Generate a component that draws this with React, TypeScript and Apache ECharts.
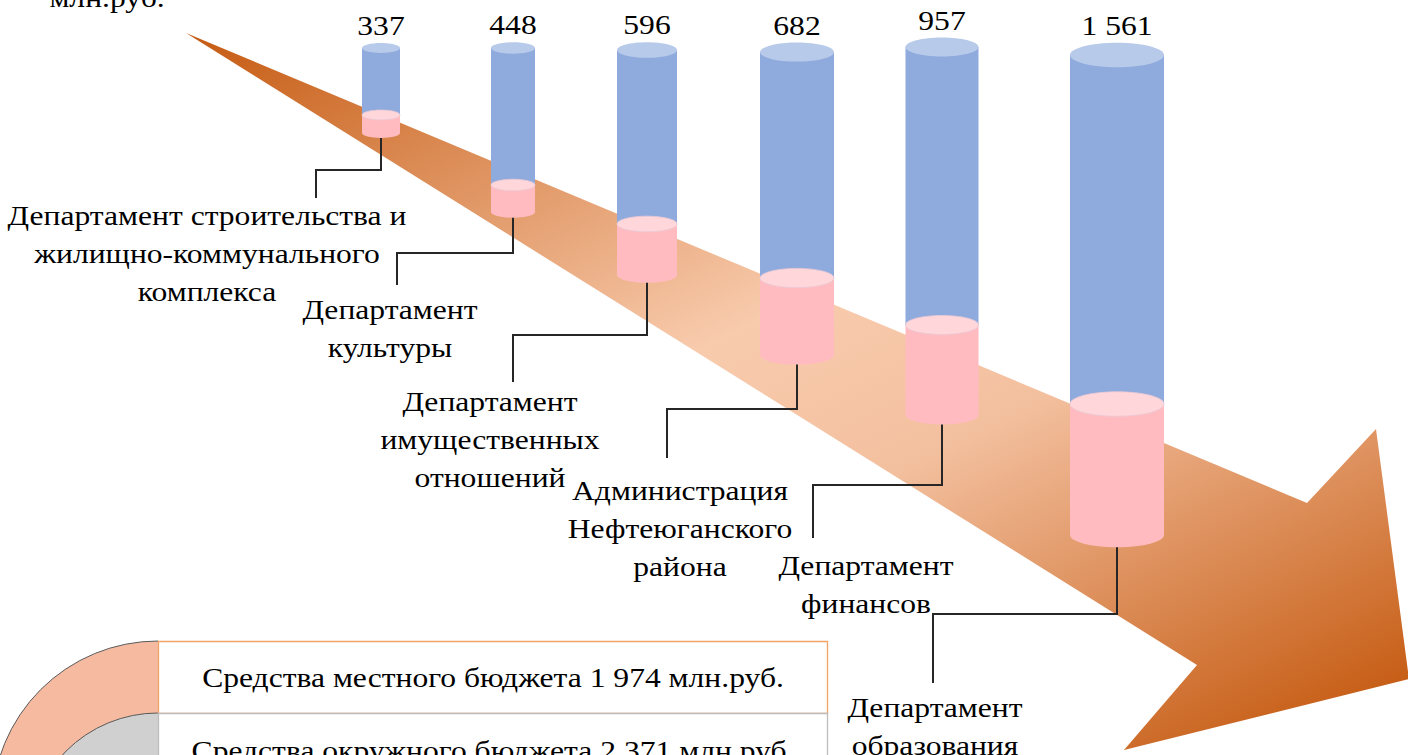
import React, { useEffect, useRef } from "react";
import * as echarts from "echarts";

// ---- data ----
const departments = [
  "Департамент строительства и\nжилищно-коммунального\nкомплекса",
  "Департамент\nкультуры",
  "Департамент\nимущественных\nотношений",
  "Администрация\nНефтеюганского\nрайона",
  "Департамент\nфинансов",
  "Департамент\nобразования",
];
const totals = [337, 448, 596, 682, 957, 1561];
// drawn lengths of the blue (upper) and pink (lower) part of each cylinder
const blueLength = [67, 137, 174, 226, 278, 349];
const pinkLength = [18, 27, 51, 77, 90, 131];
const budgetNames = ["Средства местного бюджета", "Средства окружного бюджета"];
const budgetValues = [1974, 2371];
const unitText = "млн.руб.";

// ---- layout (picture units) ----
const columnX = [381, 513, 647, 797, 942, 1117];
const columnWidth = [38, 44, 60, 74, 73, 94];
const columnTop = [48, 48, 50, 52, 47, 55];
const elbowY = [170, 253, 335, 409, 485, 614];
const leaderX = [316, 397, 513, 667, 813, 933];
const leaderEndY = [198, 285, 382, 458, 538, 683];
const labelX = [207, 390, 490, 680, 866, 935];
const labelY = [216, 310, 402, 491, 566, 708];

const W = 1408;
const H = 755;
const FONT = "Liberation Serif, DejaVu Serif, serif";
const FS = 27;
const SX = 1.17;
const LH = 38;

const fmt = (n: number) => String(n).replace(/\B(?=(\d{3})+(?!\d))/g, " ");

const txt = (extra: any = {}) => ({
  fontFamily: FONT,
  fontSize: FS,
  fill: "#000",
  align: "center",
  verticalAlign: "middle",
  ...extra,
});

export default function App() {
  const ref = useRef<HTMLDivElement>(null);
  useEffect(() => {
    if (!ref.current) return;
    const chart = echarts.init(ref.current, undefined, { renderer: "svg" });

    const cylData = totals.map((t, i) => [columnX[i], columnTop[i], blueLength[i], pinkLength[i], columnWidth[i], t]);
    const leaderData = departments.map((_, i) => [
      columnX[i],
      columnTop[i] + blueLength[i] + pinkLength[i],
      elbowY[i],
      leaderX[i],
      leaderEndY[i],
      labelX[i],
      labelY[i],
      columnWidth[i],
    ]);

    const arrowGradient = new echarts.graphic.LinearGradient(
      186, 33, 696, 1053,
      [
        { offset: 0, color: "#C55A11" },
        { offset: 0.45, color: "#F8CBAD" },
        { offset: 0.62, color: "#F3C09F" },
        { offset: 1, color: "#C55A11" },
      ],
      true
    );

    const option: any = {
      animation: false,
      textStyle: { fontFamily: FONT },
      grid: { left: 0, right: 0, top: 0, bottom: 0, containLabel: false },
      xAxis: { type: "value", min: 0, max: W, show: false },
      yAxis: { type: "value", min: 0, max: H, inverse: true, show: false },
      graphic: [
        {
          type: "polygon",
          z: -10,
          shape: {
            points: [
              [186, 33],
              [1307, 503],
              [1376, 429],
              [1409, 679],
              [1124, 750],
              [1197, 665],
            ],
          },
          style: { fill: arrowGradient },
        },
        {
          type: "text",
          x: 107,
          y: -2,
          scaleX: SX,
          style: txt({ text: unitText }),
        },
        {
          type: "sector",
          shape: { cx: 158, cy: 807, r: 166, r0: 0, startAngle: Math.PI, endAngle: Math.PI * 1.5, clockwise: true },
          style: { fill: "#F5BAA0" },
        },
        {
          type: "arc",
          shape: { cx: 158, cy: 807, r: 166, startAngle: Math.PI, endAngle: Math.PI * 1.5, clockwise: true },
          style: { fill: null, stroke: "#5a5a5a", lineWidth: 1 },
        },
        {
          type: "sector",
          shape: { cx: 158, cy: 843, r: 130, r0: 0, startAngle: Math.PI, endAngle: Math.PI * 1.5, clockwise: true },
          style: { fill: "#D0D0D0" },
        },
        {
          type: "arc",
          shape: { cx: 158, cy: 843, r: 130, startAngle: Math.PI, endAngle: Math.PI * 1.5, clockwise: true },
          style: { fill: null, stroke: "#5a5a5a", lineWidth: 1 },
        },
        {
          type: "rect",
          shape: { x: 158.5, y: 641.5, width: 669, height: 72 },
          style: { fill: "#fff", stroke: "#F2A466", lineWidth: 1.3 },
        },
        {
          type: "rect",
          shape: { x: 158.5, y: 713.5, width: 669, height: 70 },
          style: { fill: "#fff", stroke: "#BDBDBD", lineWidth: 1.3 },
        },
        {
          type: "text",
          x: 493,
          y: 678,
          scaleX: SX,
          style: txt({ text: `${budgetNames[0]} ${fmt(budgetValues[0])} млн.руб.` }),
        },
        {
          type: "text",
          x: 493,
          y: 751,
          scaleX: SX,
          style: txt({ text: `${budgetNames[1]} ${fmt(budgetValues[1])} млн.руб.` }),
        },
      ],
      series: [
        {
          type: "custom",
          z: 3,
          data: cylData,
          encode: { x: 0, y: 1 },
          renderItem: (params: any, api: any) => {
            const x = api.value(0);
            const top = api.value(1);
            const blue = api.value(2);
            const pink = api.value(3);
            const w = api.value(4);
            const total = api.value(5);
            const pTop = api.coord([x, top]);
            const pSplit = api.coord([x, top + blue]);
            const pBottom = api.coord([x, top + blue + pink]);
            const pw = api.coord([x + w / 2, top])[0] - api.coord([x - w / 2, top])[0];
            const rx = pw / 2;
            const ry = pw * 0.13;
            const cx = pTop[0];
            return {
              type: "group",
              children: [
                {
                  type: "rect",
                  shape: { x: cx - rx, y: pTop[1], width: pw, height: pSplit[1] - pTop[1] },
                  style: { fill: "#8FAADC" },
                },
                {
                  type: "ellipse",
                  shape: { cx, cy: pTop[1], rx, ry },
                  style: { fill: "#B8CAEA" },
                },
                {
                  type: "ellipse",
                  shape: { cx, cy: pBottom[1], rx, ry },
                  style: { fill: "#FFBBBF" },
                },
                {
                  type: "rect",
                  shape: { x: cx - rx, y: pSplit[1], width: pw, height: pBottom[1] - pSplit[1] },
                  style: { fill: "#FFBBBF" },
                },
                {
                  type: "ellipse",
                  shape: { cx, cy: pSplit[1], rx, ry },
                  style: { fill: "#FFD6D9", stroke: "#E9C9D6", lineWidth: 0.8 },
                },
                {
                  type: "text",
                  x: cx,
                  y: pTop[1] - ry - 17,
                  scaleX: SX,
                  style: txt({ text: fmt(total) }),
                },
              ],
            };
          },
        },
        {
          type: "custom",
          z: 4,
          data: leaderData,
          encode: { x: 0, y: 1 },
          renderItem: (params: any, api: any) => {
            const i = params.dataIndex;
            const cxv = api.value(0);
            const bottom = api.value(1);
            const ey = api.value(2);
            const lx = api.value(3);
            const ly = api.value(4);
            const tx = api.value(5);
            const ty = api.value(6);
            const w = api.value(7);
            const pw = api.coord([cxv + w / 2, 0])[0] - api.coord([cxv - w / 2, 0])[0];
            const ry = pw * 0.13;
            const p0 = api.coord([cxv, bottom]);
            const p1 = api.coord([cxv, ey]);
            const p2 = api.coord([lx, ey]);
            const p3 = api.coord([lx, ly]);
            const pt = api.coord([tx, ty]);
            return {
              type: "group",
              children: [
                {
                  type: "polyline",
                  shape: { points: [[p0[0], p0[1] + ry], p1, p2, p3] },
                  style: { fill: null, stroke: "#262626", lineWidth: 2 },
                },
                {
                  type: "text",
                  x: pt[0],
                  y: pt[1] - LH / 2,
                  scaleX: SX,
                  style: txt({ text: departments[i], lineHeight: LH, verticalAlign: "top" }),
                },
              ],
            };
          },
        },
      ],
    };
    chart.setOption(option);
    return () => chart.dispose();
  }, []);
  return (
    <div
      ref={ref}
      style={{ position: "absolute", left: 0, top: 0, width: W, height: H, background: "#fff" }}
    />
  );
}
